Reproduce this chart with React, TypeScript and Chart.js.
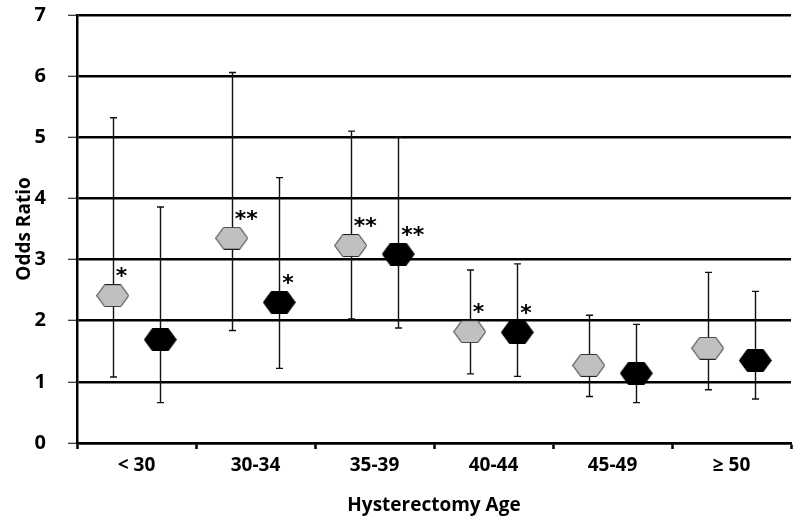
import React, { useEffect, useRef } from "react";
import { Chart, registerables } from "chart.js";

Chart.register(...registerables);

const categories = ["< 30", "30-34", "35-39", "40-44", "45-49", "≥ 50"];
const grayOR = [2.41, 3.35, 3.23, 1.82, 1.27, 1.55];
const grayLow = [1.08, 1.84, 2.03, 1.13, 0.76, 0.87];
const grayHigh = [5.32, 6.06, 5.1, 2.83, 2.09, 2.79];
const blackOR = [1.69, 2.3, 3.09, 1.81, 1.14, 1.35];
const blackLow = [0.66, 1.22, 1.88, 1.09, 0.66, 0.72];
const blackHigh = [3.86, 4.34, 5.0, 2.93, 1.94, 2.48];
const graySig = ["*", "**", "**", "*", "", ""];
const blackSig = ["", "*", "**", "*", "", ""];
const yTicks = [0, 1, 2, 3, 4, 5, 6, 7];

const FONT = "'Open Sans', Lato, sans-serif";
const OFFSET = 0.2;

function makeHex(fill: string, stroke: string): HTMLCanvasElement {
  const c = document.createElement("canvas");
  c.width = 33;
  c.height = 23;
  const g = c.getContext("2d")!;
  g.beginPath();
  g.moveTo(0.5, 11.5);
  g.lineTo(8.5, 0.5);
  g.lineTo(24.5, 0.5);
  g.lineTo(32.5, 11.5);
  g.lineTo(24.5, 22.5);
  g.lineTo(8.5, 22.5);
  g.closePath();
  g.fillStyle = fill;
  g.fill();
  g.lineWidth = 1;
  g.strokeStyle = stroke;
  g.stroke();
  return c;
}

const errorBars = {
  id: "errorBars",
  beforeDatasetsDraw(chart: any) {
    const ctx = chart.ctx;
    const xs = chart.scales.xl;
    const ys = chart.scales.y;
    ctx.save();
    ctx.strokeStyle = "#111";
    ctx.lineWidth = 1.4;
    const series = [
      { low: grayLow, high: grayHigh, off: -OFFSET },
      { low: blackLow, high: blackHigh, off: OFFSET },
    ];
    series.forEach((s) => {
      s.low.forEach((lo, i) => {
        const x = Math.round(xs.getPixelForValue(i + s.off)) + 0.5;
        const yl = ys.getPixelForValue(lo);
        const yh = ys.getPixelForValue(s.high[i]);
        ctx.beginPath();
        ctx.moveTo(x, yl);
        ctx.lineTo(x, yh);
        ctx.moveTo(x - 3.5, yl);
        ctx.lineTo(x + 3.5, yl);
        ctx.moveTo(x - 3.5, yh);
        ctx.lineTo(x + 3.5, yh);
        ctx.stroke();
      });
    });
    ctx.restore();
  },
  afterDatasetsDraw(chart: any) {
    const ctx = chart.ctx;
    const xs = chart.scales.xl;
    const ys = chart.scales.y;
    ctx.save();
    ctx.fillStyle = "#000";
    ctx.font = `bold 22px 'DejaVu Sans', sans-serif`;
    ctx.textAlign = "left";
    ctx.textBaseline = "middle";
    const series = [
      { v: grayOR, sig: graySig, off: -OFFSET },
      { v: blackOR, sig: blackSig, off: OFFSET },
    ];
    series.forEach((s) => {
      s.sig.forEach((t, i) => {
        if (!t) return;
        const x = xs.getPixelForValue(i + s.off);
        const y = ys.getPixelForValue(s.v[i]);
        ctx.fillText(t, x + 3, y - 18);
      });
    });
    ctx.restore();
  },
};

export default function App() {
  const ref = useRef<HTMLCanvasElement>(null);
  useEffect(() => {
    document.body.style.margin = "0";
    const grayHex = makeHex("#c0c0c0", "#222");
    const blackHex = makeHex("#000", "#000");
    const chart = new Chart(ref.current!, {
      type: "scatter",
      data: {
        labels: categories,
        datasets: [
          {
            label: "gray",
            data: grayOR.map((v, i) => ({ x: i - OFFSET, y: v })),
            xAxisID: "xl",
            pointStyle: grayHex as any,
            showLine: false,
          },
          {
            label: "black",
            data: blackOR.map((v, i) => ({ x: i + OFFSET, y: v })),
            xAxisID: "xl",
            pointStyle: blackHex as any,
            showLine: false,
          },
        ],
      },
      options: {
        animation: false,
        responsive: false,
        maintainAspectRatio: false,
        layout: { padding: { top: 15, right: 9, left: 0, bottom: 0 } },
        plugins: { legend: { display: false }, tooltip: { enabled: false } },
        scales: {
          xl: {
            type: "linear",
            display: false,
            min: -0.5,
            max: 5.5,
          },
          x: {
            type: "category",
            labels: categories,
            position: "bottom",
            offset: true,
            grid: {
              offset: true,
              drawOnChartArea: false,
              drawTicks: true,
              tickLength: 6,
              tickWidth: 2.5,
              tickColor: "#000",
              color: "#000",
            },
            border: { display: true, color: "#000", width: 2.5 },
            ticks: {
              color: "#000",
              font: { family: FONT, size: 19, weight: "bold" },
              padding: 5,
              maxRotation: 0,
            },
            title: {
              display: true,
              text: "Hysterectomy Age",
              color: "#000",
              font: { family: FONT, size: 19, weight: "bold" },
              padding: { top: 0, bottom: 9 },
            },
            afterFit: (s: any) => {
              s.height = 83;
              s.paddingLeft = 0;
              s.paddingRight = 0;
            },
          } as any,
          y: {
            min: 0,
            max: 7,
            afterBuildTicks: (s: any) => {
              s.ticks = yTicks.map((v) => ({ value: v }));
            },
            grid: {
              color: "#000",
              lineWidth: 2.5,
              drawTicks: true,
              tickLength: 9,
              tickWidth: 1,
              tickColor: "#000",
            },
            border: { display: true, color: "#000", width: 2.5 },
            ticks: {
              color: "#000",
              font: { family: FONT, size: 20, weight: "bold" },
              padding: 22,
            },
            title: {
              display: true,
              text: "Odds Ratio",
              color: "#000",
              font: { family: FONT, size: 19, weight: "bold" },
              padding: { top: 13, bottom: 0 },
            },
            afterFit: (s: any) => {
              s.width = 77;
              s.paddingTop = 0;
              s.paddingBottom = 0;
            },
          } as any,
        },
      },
      plugins: [errorBars],
    });
    return () => chart.destroy();
  }, []);
  return (
    <div style={{ width: 800, height: 526, background: "#fff" }}>
      <canvas ref={ref} width={800} height={526} />
    </div>
  );
}
